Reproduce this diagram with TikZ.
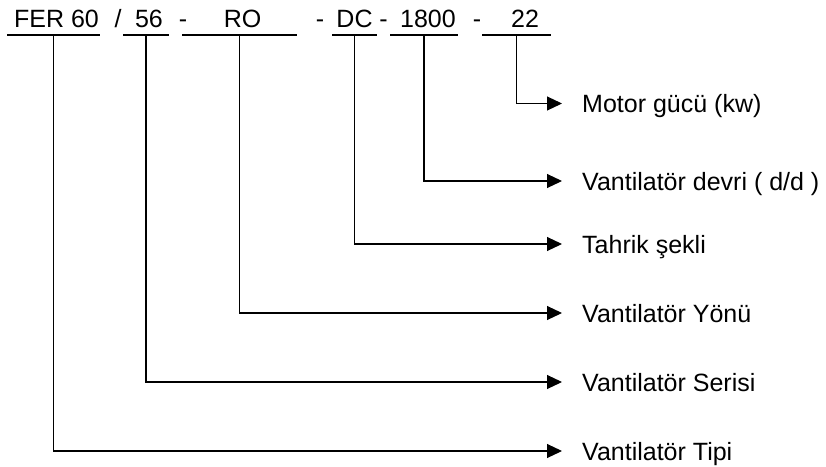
\documentclass[tikz,border=0pt]{standalone}
\usepackage{fontspec}
\setmainfont{Liberation Sans}
\usetikzlibrary{arrows.meta}

\begin{document}
\begin{tikzpicture}[x=1pt, y=-1pt,
    code/.style={anchor=base, inner sep=0pt, font=\fontsize{25}{30}\selectfont},
    desc/.style={anchor=west, inner xsep=20pt, inner ysep=0pt, text height=20pt, text depth=2pt, font=\fontsize{25}{30}\selectfont},
    uline/.style={line width=1.1pt},
    link/.style={line width=1.1pt, -{Triangle[length=15pt, width=14pt]}}]
      \useasboundingbox (0,0) rectangle (826,466);
      % kod satiri
      \node[code] (fer) at (56.5, 27) {FER 60};
      \node[code] (slash) at (118, 27) {/};
      \node[code] (seri) at (149, 27) {56};
      \node[code] (h1) at (183, 27) {-};
      \node[code] (ro) at (242.5, 27) {RO};
      \node[code] (h2) at (320, 27) {-};
      \node[code] (dc) at (354.5, 27) {DC};
      \node[code] (h3) at (383.5, 27) {-};
      \node[code] (devir) at (428, 27) {1800};
      \node[code] (h4) at (477, 27) {-};
      \node[code] (kw) at (525, 27) {22};
      \draw[uline] (7, 35) -- coordinate (feru) (100, 35);
      \draw[uline] (123, 35) -- coordinate (seriu) (169, 35);
      \draw[uline] (182, 35) -- coordinate (rou) (297, 35);
      \draw[uline] (332, 35) -- coordinate (dcu) (377, 35);
      \draw[uline] (390, 35) -- coordinate (deviru) (458, 35);
      \draw[uline] (482, 35) -- coordinate (kwu) (551, 35);
      % aciklamalar
      \node[desc] (motor) at (562, 103.5) {Motor gücü (kw)};
      \node[desc] (devri) at (562, 181) {Vantilatör devri ( d/d )};
      \node[desc] (tahrik) at (562, 244) {Tahrik şekli};
      \node[desc] (yonu) at (562, 313) {Vantilatör Yönü};
      \node[desc] (serisi) at (562, 382) {Vantilatör Serisi};
      \node[desc] (tipi) at (562, 451) {Vantilatör Tipi};
      \draw[link] (kwu) |- (motor.west);
      \draw[link] (deviru) |- (devri.west);
      \draw[link] (dcu) |- (tahrik.west);
      \draw[link] (rou) |- (yonu.west);
      \draw[link] (seriu) |- (serisi.west);
      \draw[link] (feru) |- (tipi.west);
\end{tikzpicture}
\end{document}
